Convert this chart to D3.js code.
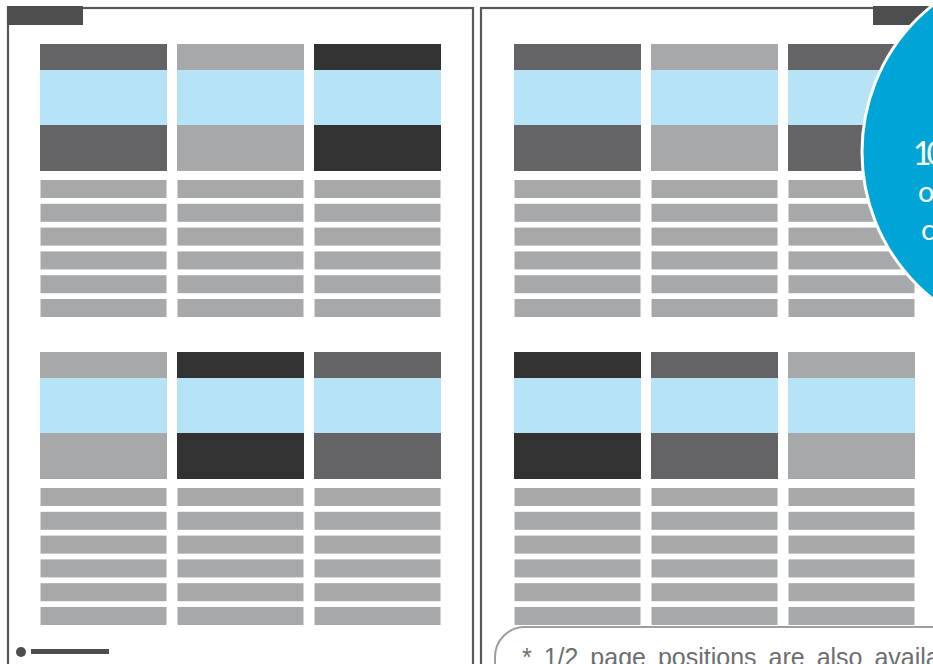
<!DOCTYPE html>
<html>
<head>
<meta charset="utf-8">
<script src="https://cdn.jsdelivr.net/npm/d3@7"></script>
<style>
  html, body { margin: 0; padding: 0; background: #fff; overflow: hidden; }
  svg { display: block; }
</style>
</head>
<body>
<svg width="933" height="664"></svg>
<script>
// page layout data
const pages = [0, 1];                 // left page, right page
const sections = [0, 1];              // two blocks of ads per page
const columns = [0, 1, 2];
const rows = [0, 1, 2, 3, 4, 5];      // text lines under each block

// shade of each block header, per page and section
const pageShades = [
    [["mid", "light", "dark"], ["light", "dark", "mid"]],
    [["mid", "light", "mid"], ["dark", "mid", "light"]]
];

const circleLines = ["10", "o", "c"];
const footnote = "* 1/2 page positions are also available";

const colors = {
    dark: "#333233",
    mid: "#646466",
    light: "#a7a8aa",
    blue: "#b6e3f5",
    line: "#a7a8aa",
    frame: "#58595b",
    tab: "#4d4e50",
    badge: "#00a4d6"
};

function draw() {
    const svg = d3.select("svg"),
        width = +svg.attr("width"),
        height = +svg.attr("height");

    svg.selectAll("*").remove();

    const pageX = d3.scaleLinear().domain([0, 1]).range([0, 474]);
    const sectionY = d3.scaleLinear().domain([0, 1]).range([44, 352]);

    const colX = d3.scaleBand()
        .domain(columns)
        .range([40, 441])
        .paddingInner(0.073);

    const rowY = d3.scaleLinear().domain([0, 5]).range([136, 255]);

    // page frames
    svg.append("g")
        .selectAll("rect")
        .data(pages)
        .enter().append("rect")
        .attr("x", d => 8 + pageX(d) - (d ? 1 : 0))
        .attr("y", 8)
        .attr("width", 465)
        .attr("height", 700)
        .attr("fill", "#fff")
        .attr("stroke", colors.frame)
        .attr("stroke-width", 2.2);

    // tabs on the top corners
    svg.append("rect")
        .attr("x", 7).attr("y", 6)
        .attr("width", 76).attr("height", 19)
        .attr("fill", colors.tab);
    svg.append("rect")
        .attr("x", 873).attr("y", 6)
        .attr("width", 80).attr("height", 19)
        .attr("fill", colors.tab);

    // one group per page and section
    const cells = [];
    pages.forEach(p => sections.forEach(s => columns.forEach(c => {
        cells.push({ page: p, section: s, col: c, shade: pageShades[p][s][c] });
    })));

    const cell = svg.append("g")
        .attr("class", "cells")
        .selectAll("g")
        .data(cells)
        .enter().append("g")
        .attr("transform", d => `translate(${pageX(d.page) + colX(d.col)},${sectionY(d.section)})`);

    const bw = colX.bandwidth();

    cell.append("rect")
        .attr("width", bw).attr("height", 26)
        .attr("fill", d => colors[d.shade]);
    cell.append("rect")
        .attr("y", 26)
        .attr("width", bw).attr("height", 55)
        .attr("fill", colors.blue);
    cell.append("rect")
        .attr("y", 81)
        .attr("width", bw).attr("height", 46)
        .attr("fill", d => colors[d.shade]);

    cell.selectAll(".row")
        .data(rows)
        .enter().append("rect")
        .attr("class", "row")
        .attr("x", 0.5)
        .attr("y", r => rowY(r))
        .attr("width", bw - 1)
        .attr("height", 18)
        .attr("fill", colors.line);

    // footer on the left page
    svg.append("circle")
        .attr("cx", 21).attr("cy", 652).attr("r", 5)
        .attr("fill", colors.tab);
    svg.append("rect")
        .attr("x", 31).attr("y", 649)
        .attr("width", 78).attr("height", 5)
        .attr("fill", colors.tab);

    // footnote box on the right page
    svg.append("rect")
        .attr("x", 495).attr("y", 627)
        .attr("width", 520).attr("height", 120)
        .attr("rx", 30)
        .attr("fill", "#fff")
        .attr("stroke", "#9d9ea0")
        .attr("stroke-width", 2);

    svg.append("text")
        .attr("x", 522).attr("y", 666)
        .attr("font-family", "Liberation Sans, Arial, sans-serif")
        .attr("font-size", 25)
        .attr("word-spacing", 5)
        .attr("fill", "#6d6e71")
        .text(footnote);

    // blue badge
    svg.append("circle")
        .attr("cx", 1050).attr("cy", 152).attr("r", 188)
        .attr("fill", colors.badge)
        .attr("stroke", "#fff")
        .attr("stroke-width", 3);

    const badgeY = [165, 202, 240];
    const badgeX = [913, 918, 921];
    const badgeSize = [32, 29, 29];
    svg.append("g")
        .selectAll("text")
        .data(circleLines)
        .enter().append("text")
        .attr("x", (d, i) => badgeX[i])
        .attr("y", (d, i) => badgeY[i])
        .attr("font-family", "Lato, sans-serif")
        .attr("font-size", (d, i) => badgeSize[i])
        .attr("letter-spacing", (d, i) => i === 0 ? -5 : 0)
        .attr("fill", "#fff")
        .text(d => d);
}

document.addEventListener('DOMContentLoaded', function() {
    draw();
});
</script>
</body>
</html>
